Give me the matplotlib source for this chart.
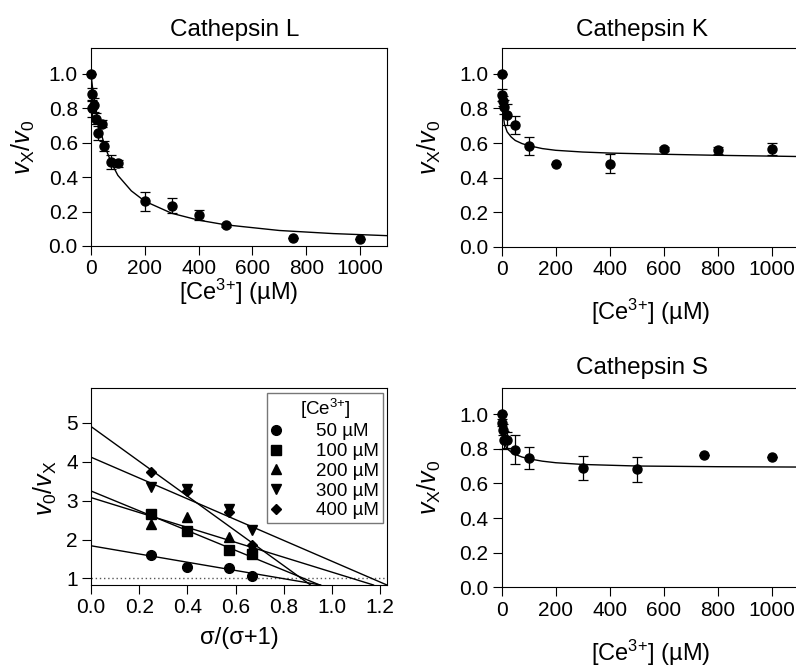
import matplotlib
matplotlib.use('Agg')
import matplotlib.pyplot as plt

plt.rcParams['font.family'] = ['Liberation Sans', 'DejaVu Sans']
plt.rcParams['mathtext.fontset'] = 'custom'
plt.rcParams['mathtext.rm'] = 'Liberation Sans'
plt.rcParams['mathtext.it'] = 'Liberation Sans:italic'
plt.rcParams['mathtext.default'] = 'regular'

# Cathepsin L
L_conc = [0, 2.5, 5, 10, 20, 25, 40, 50, 75, 100, 200, 300, 400, 500, 750, 1000]
L_ratio = [1.0, 0.88, 0.80, 0.82, 0.74, 0.655, 0.71, 0.58, 0.49, 0.48, 0.26, 0.235, 0.18, 0.12, 0.045, 0.04]
L_err = [0, 0.04, 0.05, 0.04, 0.03, 0.04, 0.02, 0.03, 0.04, 0.02, 0.055, 0.045, 0.03, 0.01, 0, 0]
L_fit_x = [0, 5, 10, 20, 30, 50, 75, 100, 150, 200, 300, 400, 500, 700, 900, 1100]
L_fit_y = [1.0, 0.93, 0.875, 0.78, 0.70, 0.585, 0.485, 0.41, 0.32, 0.26, 0.19, 0.15, 0.123, 0.09, 0.072, 0.06]

# Cathepsin K
K_conc = [0, 2.5, 5, 10, 20, 50, 100, 200, 400, 600, 800, 1000]
K_ratio = [1.0, 0.88, 0.845, 0.81, 0.765, 0.705, 0.583, 0.477, 0.48, 0.565, 0.558, 0.565]
K_err = [0, 0.035, 0.03, 0.04, 0.06, 0.05, 0.05, 0, 0.055, 0.01, 0.02, 0.035]
K_fit_x = [0, 2, 5, 10, 20, 35, 50, 75, 100, 150, 200, 300, 400, 600, 800, 1100]
K_fit_y = [1.0, 0.86, 0.77, 0.71, 0.665, 0.635, 0.615, 0.597, 0.585, 0.568, 0.558, 0.548, 0.542, 0.535, 0.529, 0.522]

# Cathepsin S
S_conc = [0, 2.5, 5, 10, 20, 50, 100, 300, 500, 750, 1000]
S_ratio = [1.0, 0.95, 0.91, 0.85, 0.85, 0.795, 0.745, 0.688, 0.68, 0.765, 0.752]
S_err = [0, 0.02, 0.03, 0.05, 0.045, 0.085, 0.063, 0.07, 0.072, 0, 0]
S_fit_x = [0, 2, 5, 10, 20, 35, 50, 75, 100, 150, 200, 300, 500, 800, 1100]
S_fit_y = [1.0, 0.93, 0.87, 0.83, 0.80, 0.78, 0.767, 0.752, 0.742, 0.728, 0.719, 0.709, 0.70, 0.696, 0.694]

# linearised plot
sigma_frac = [0.25, 0.4, 0.571, 0.667]
ce_labels = ['50 µM', '100 µM', '200 µM', '300 µM', '400 µM']
ce_markers = ['o', 's', '^', 'v', 'D']
ce_values = [
    [1.60, 1.30, 1.27, 1.07],
    [2.66, 2.22, 1.72, 1.62],
    [2.40, 2.57, 2.06, 1.82],
    [3.35, 3.30, 2.78, 2.25],
    [3.75, 3.25, 2.70, 1.85],
]
line_intercepts = [1.84, 3.25, 3.08, 4.12, 4.91]
line_slopes = [-1.06, -2.55, -1.92, -2.68, -4.48]

fig = plt.figure(figsize=(7.96, 6.65), dpi=100)

ax_L = fig.add_axes([0.1143, 0.6301, 0.3719, 0.2977])
ax_K = fig.add_axes([0.6303, 0.6290, 0.3731, 0.2988])
ax_B = fig.add_axes([0.1143, 0.1203, 0.3719, 0.2962])
ax_S = fig.add_axes([0.6303, 0.1168, 0.3731, 0.2997])

ylab_act = r'$\mathit{v}_{\mathrm{X}}/\mathit{v}_{0}$'
xlab_conc = r'[Ce$^{3{+}}$] (µM)'


def style(ax):
    ax.tick_params(direction='out', length=6.5, width=0.8, labelsize=15, pad=3)
    for s in ax.spines.values():
        s.set_linewidth(0.8)


def conc_panel(ax, x, y, e, fx, fy, title, ylab_x, xlab_y, title_y, title_x):
    ax.plot(fx, fy, color='black', lw=1.0)
    cont = ax.errorbar(x, y, yerr=e, fmt='o', color='black', ms=6.5,
                       capsize=3.5, elinewidth=0.9, capthick=0.9)
    for a in [cont[0], *cont[1], *cont[2]]:
        a.set_clip_on(False)
    ax.set_xlim(0, 1100)
    ax.set_ylim(0, 1.15)
    ax.set_xticks([0, 200, 400, 600, 800, 1000])
    ax.set_yticks([0.0, 0.2, 0.4, 0.6, 0.8, 1.0])
    ax.set_yticklabels(['0.0', '0.2', '0.4', '0.6', '0.8', '1.0'])
    style(ax)
    ax.set_ylabel(ylab_act, fontsize=18)
    ax.yaxis.set_label_coords(ylab_x, 0.5)
    ax.set_xlabel(xlab_conc, fontsize=17)
    ax.xaxis.set_label_coords(0.5, xlab_y)
    ax.text(title_x, title_y, title, transform=ax.transAxes, ha='center',
            va='center', fontsize=17.5)


conc_panel(ax_L, L_conc, L_ratio, L_err, L_fit_x, L_fit_y, 'Cathepsin L',
           -0.182, -0.157, 1.092, 0.485)
conc_panel(ax_K, K_conc, K_ratio, K_err, K_fit_x, K_fit_y, 'Cathepsin K',
           -0.198, -0.253, 1.093, 0.471)
conc_panel(ax_S, S_conc, S_ratio, S_err, S_fit_x, S_fit_y, 'Cathepsin S',
           -0.198, -0.255, 1.10, 0.471)

# linearised panel
ax_B.axhline(1, color='#555555', lw=1.0, ls=(0, (1, 2)))
for b, m in zip(line_intercepts, line_slopes):
    ax_B.axline((0, b), slope=m, color='black', lw=1.0)
for vals, mk, lab in zip(ce_values, ce_markers, ce_labels):
    ms = 5.5 if mk == 'D' else 7
    ax_B.plot(sigma_frac, vals, ls='none', marker=mk, color='black', ms=ms, label=lab)
ax_B.set_xlim(0, 1.228)
ax_B.set_ylim(0.83, 5.9)
ax_B.set_xticks([0.0, 0.2, 0.4, 0.6, 0.8, 1.0, 1.2])
ax_B.set_xticklabels(['0.0', '0.2', '0.4', '0.6', '0.8', '1.0', '1.2'])
ax_B.set_yticks([1, 2, 3, 4, 5])
style(ax_B)
ax_B.set_ylabel(r'$\mathit{v}_{0}/\mathit{v}_{\mathrm{X}}$', fontsize=18)
ax_B.yaxis.set_label_coords(-0.107, 0.494)
ax_B.set_xlabel('σ/(σ+1)', fontsize=17)
ax_B.xaxis.set_label_coords(0.5, -0.213)
leg = ax_B.legend(title=r'[Ce$^{3{+}}$]', loc='upper right',
                  bbox_to_anchor=(0.986, 0.976), fontsize=13.5, title_fontsize=13.5,
                  fancybox=False, edgecolor='#777777', framealpha=1,
                  handlelength=0.5, handletextpad=1.9, labelspacing=0.14,
                  borderpad=0.2, borderaxespad=0)
leg.get_frame().set_linewidth(1.0)

fig.savefig('out.png', dpi=100)
